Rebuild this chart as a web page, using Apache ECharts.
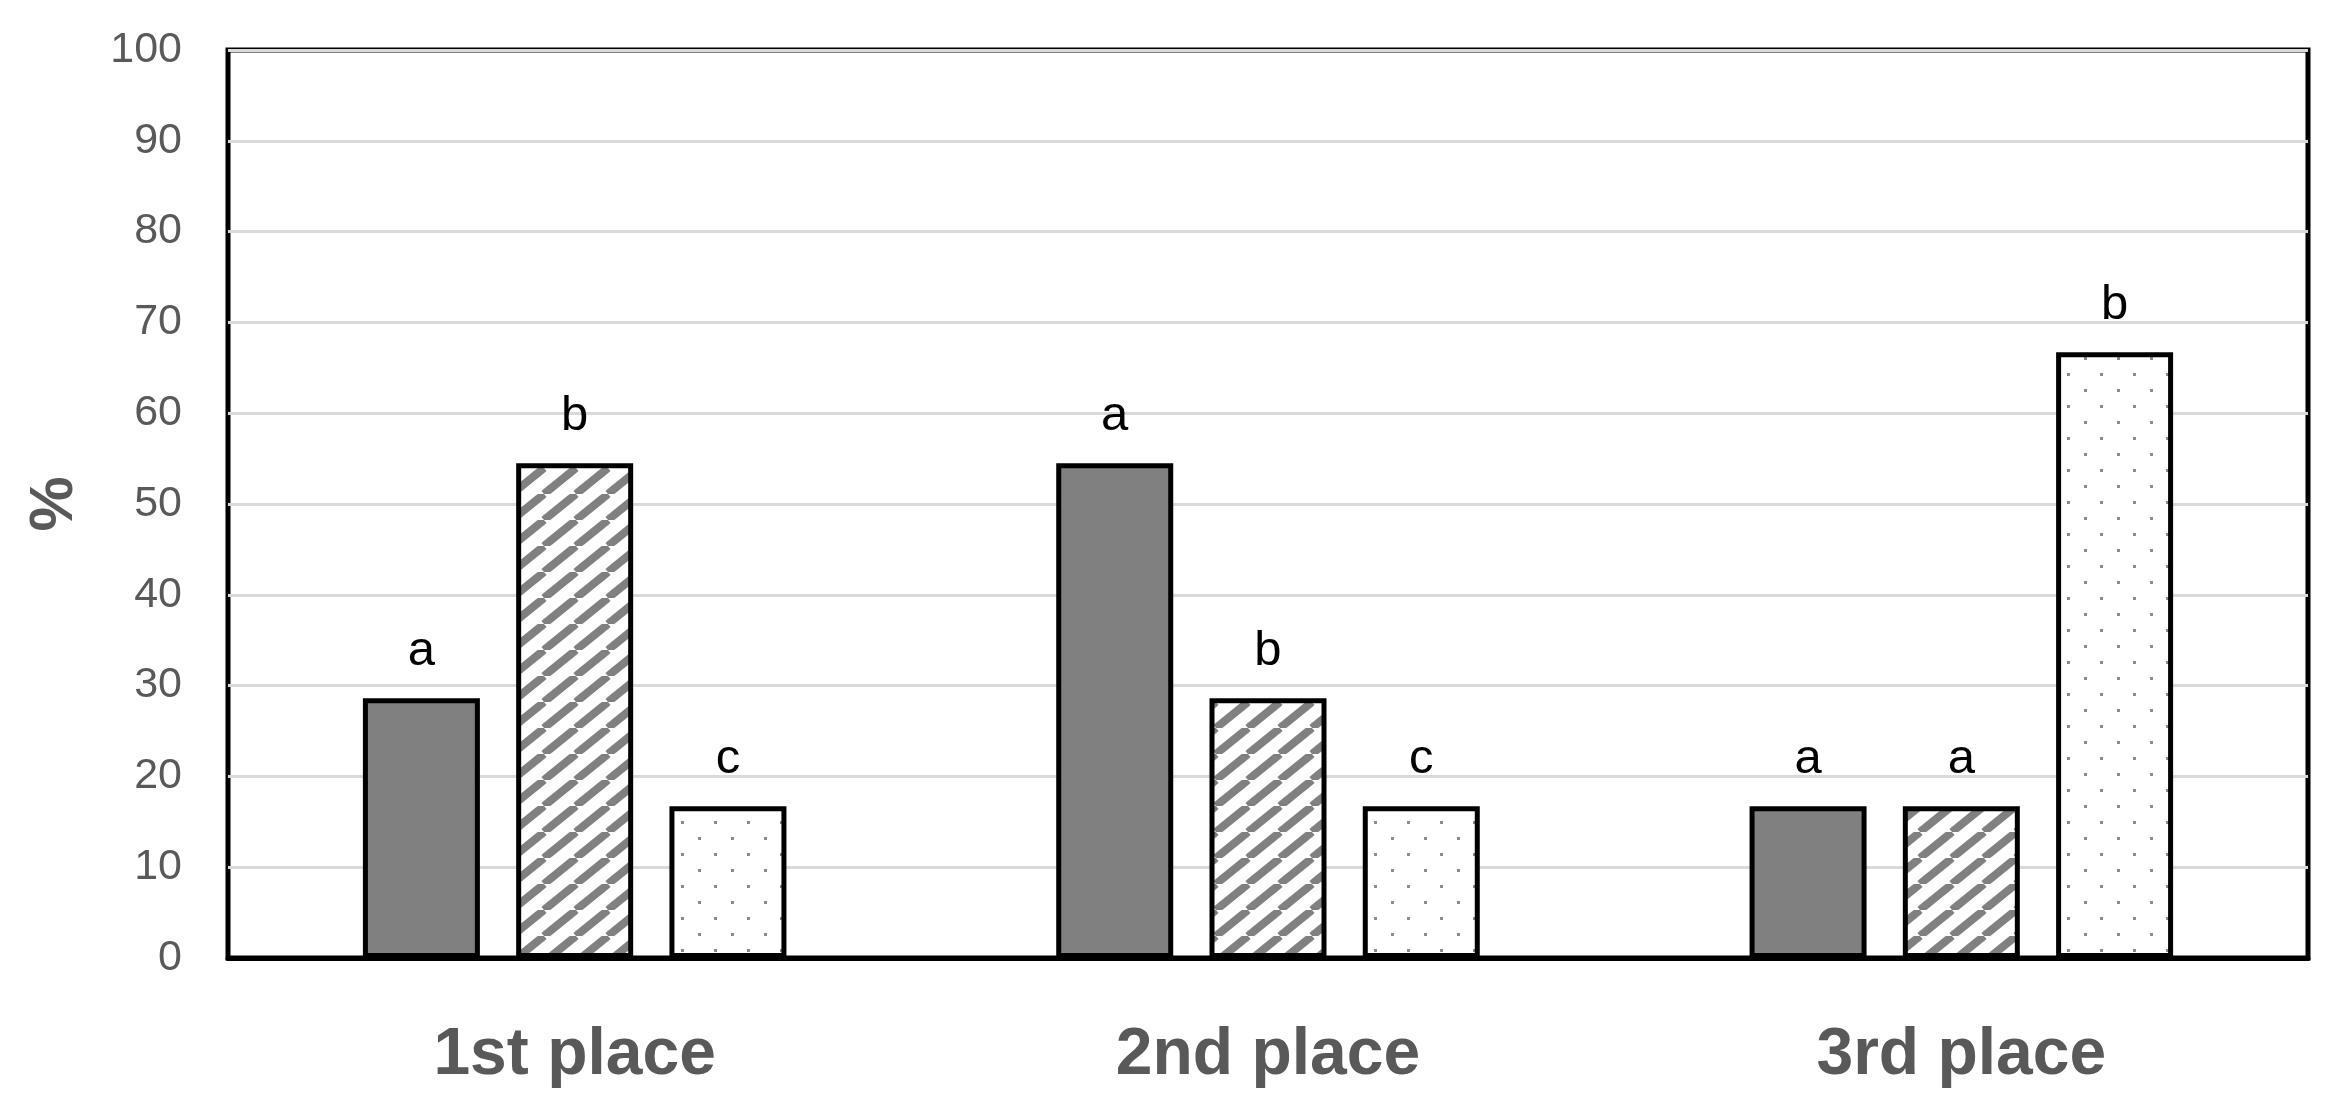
<!DOCTYPE html>
<html>
<head>
<meta charset="utf-8">
<style>
	html, body { margin: 0; padding: 0; background: #fff; }
	#chart { width: 2337px; height: 1111px; }
</style>
<script src="https://cdn.jsdelivr.net/npm/echarts/dist/echarts.min.js"></script>
</head>
<body>
<div id="chart"></div>
<script>
	// categories and values (%)
	var categories = ['1st place', '2nd place', '3rd place'];
	var solidValues = [28.6, 54.5, 16.7];
	var hatchValues = [54.5, 28.6, 16.7];
	var dotValues = [16.7, 16.7, 66.7];
	// significance letters above each bar
	var solidLetters = ['a', 'a', 'a'];
	var hatchLetters = ['b', 'b', 'a'];
	var dotLetters = ['c', 'c', 'b'];
	var yTicks = { min: 0, max: 100, step: 10 };

	var fontFamily = '"Liberation Sans", Arial, sans-serif';

	// diagonal stripes tile (a bit flatter than 45deg)
	function hatchTile() {
		var w = 32, h = 26;
		var c = document.createElement('canvas');
		c.width = w;
		c.height = h;
		var ctx = c.getContext('2d');
		ctx.fillStyle = '#fff';
		ctx.fillRect(0, 0, w, h);
		ctx.strokeStyle = '#808080';
		ctx.lineWidth = 8;
		for (var x0 = -w; x0 <= w; x0 += w) {
			ctx.beginPath();
			ctx.moveTo(x0, h);
			ctx.lineTo(x0 + w, 0);
			ctx.stroke();
		}
		return c;
	}

	// sparse dots tile
	function dotTile() {
		var c = document.createElement('canvas');
		c.width = 33;
		c.height = 32;
		var ctx = c.getContext('2d');
		ctx.fillStyle = '#fff';
		ctx.fillRect(0, 0, 33, 32);
		ctx.fillStyle = '#8a8a8a';
		ctx.fillRect(5, 5, 3, 3);
		ctx.fillRect(21, 21, 3, 3);
		return c;
	}

	function withLetters(values, letters) {
		var out = [];
		for (var i = 0; i < values.length; i++) {
			out.push({ value: values[i], label: { formatter: letters[i] } });
		}
		return out;
	}

	var barLabel = {
		show: true,
		position: 'top',
		distance: 22,
		color: '#000',
		fontSize: 49,
		fontFamily: fontFamily
	};

	function barSeries(name, values, letters, fill) {
		return {
			name: name,
			type: 'bar',
			barWidth: 117,
			barGap: '31%',
			data: withLetters(values, letters),
			label: barLabel,
			itemStyle: {
				color: fill,
				borderColor: '#000',
				borderWidth: 5
			},
			emphasis: { disabled: true }
		};
	}

	var chart = echarts.init(document.getElementById('chart'));
	chart.setOption({
		backgroundColor: '#fff',
		animation: false,
		grid: {
			show: true,
			left: 228,
			right: 29,
			top: 50,
			bottom: 153,
			borderColor: '#000',
			borderWidth: 5
		},
		xAxis: {
			type: 'category',
			data: categories,
			axisTick: { show: false },
			axisLine: { lineStyle: { color: '#000', width: 5 } },
			axisLabel: {
				margin: 65,
				color: '#595959',
				fontSize: 66,
				fontWeight: 'bold',
				fontFamily: fontFamily
			}
		},
		yAxis: {
			type: 'value',
			min: yTicks.min,
			max: yTicks.max,
			interval: yTicks.step,
			name: '%',
			nameLocation: 'middle',
			nameGap: 142,
			nameTextStyle: {
				color: '#595959',
				fontSize: 62,
				fontWeight: 'bold',
				fontFamily: fontFamily
			},
			axisLine: { show: false },
			axisTick: { show: false },
			axisLabel: {
				margin: 46,
				color: '#595959',
				fontSize: 43,
				fontFamily: fontFamily
			},
			splitLine: { lineStyle: { color: '#d9d9d9', width: 3 } }
		},
		series: [
			barSeries('solid', solidValues, solidLetters, '#808080'),
			barSeries('hatched', hatchValues, hatchLetters, { image: hatchTile(), repeat: 'repeat' }),
			barSeries('dotted', dotValues, dotLetters, { image: dotTile(), repeat: 'repeat' })
		]
	});
</script>
</body>
</html>
